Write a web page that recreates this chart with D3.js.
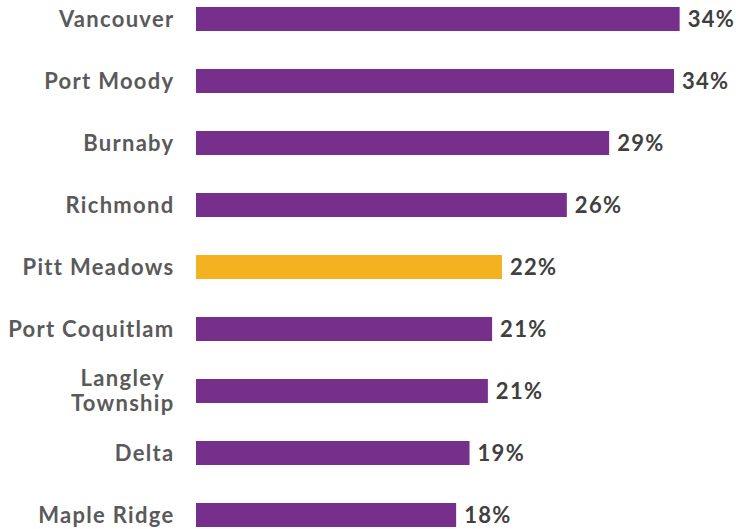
<!DOCTYPE html>
<html>
<head>
<meta charset="utf-8">
<script src="https://cdn.jsdelivr.net/npm/d3@7"></script>
<style>
  html, body { margin: 0; padding: 0; background: #ffffff; }
  svg { display: block; }
  .cat { font-family: Lato, "Open Sans", sans-serif; font-weight: 700; fill: #5a5a5a; font-size: 22px; letter-spacing: 1.3px; }
  .val { font-family: Lato, "Open Sans", sans-serif; font-weight: 700; fill: #404040; font-size: 22px; letter-spacing: 1.3px; }
</style>
</head>
<body>
<svg id="chart" width="736" height="529"></svg>
<script>
// Share of households by municipality (percent)
const categories = ["Vancouver", "Port Moody", "Burnaby", "Richmond", "Pitt Meadows",
                    "Port Coquitlam", "Langley Township", "Delta", "Maple Ridge"];
const values = [34.3, 33.9, 29.3, 26.3, 21.7, 21.0, 20.7, 19.4, 18.45];
const highlight = "Pitt Meadows";

const width = 736, height = 529;
const plotLeft = 196, labelRight = 174.5;
const purple = "#76308b", gold = "#f4b120";

const svg = d3.select("#chart");

const y = d3.scaleBand()
  .domain(categories)
  .range([-12, 546])
  .paddingInner(0.613)
  .paddingOuter(0.3065);

const x = d3.scaleLinear()
  .domain([0, 40])
  .range([plotLeft, plotLeft + 40 * 14.1]);

const data = categories.map((c, i) => ({ name: c, value: values[i] }));

// bars
svg.append("g")
  .selectAll("rect")
  .data(data)
  .join("rect")
  .attr("x", x(0))
  .attr("y", d => y(d.name))
  .attr("width", d => x(d.value) - x(0))
  .attr("height", y.bandwidth())
  .attr("fill", d => d.name === highlight ? gold : purple);

// value labels
svg.append("g")
  .selectAll("text")
  .data(data)
  .join("text")
  .attr("class", "val")
  .attr("x", d => x(d.value) + 8)
  .attr("y", d => y(d.name) + y.bandwidth() / 2)
  .attr("dy", "0.36em")
  .text(d => d3.format(".0f")(d.value) + "%");

// category labels, wrapped onto centred lines when too wide
const catG = svg.append("g");
data.forEach(d => {
  const cy = y(d.name) + y.bandwidth() / 2;
  const t = catG.append("text").attr("class", "cat")
    .attr("text-anchor", "end")
    .attr("x", labelRight).attr("y", cy).attr("dy", "0.36em")
    .text(d.name);
  if (t.node().getComputedTextLength() > 180) {
    t.remove();
    const words = d.name.split(" ");
    const g = catG.append("g");
    const lines = words.map(w => g.append("text").attr("class", "cat").text(w));
    const widths = lines.map(l => l.node().getComputedTextLength());
    const cx = labelRight - d3.max(widths) / 2;
    const lh = 25;
    lines.forEach((l, i) => {
      l.attr("text-anchor", "middle")
        .attr("x", cx)
        .attr("y", cy + (i - (lines.length - 1) / 2) * lh)
        .attr("dy", "0.36em");
    });
  }
});
</script>
</body>
</html>
